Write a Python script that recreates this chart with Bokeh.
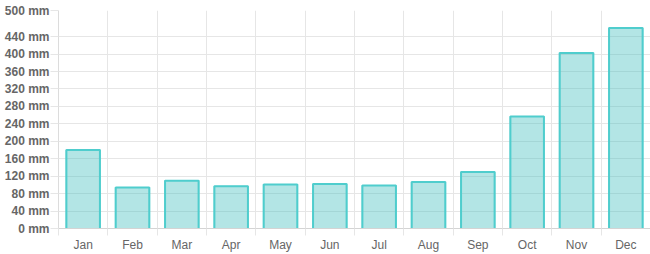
import numpy as np
from bokeh.plotting import figure
from bokeh.models import FixedTicker, Range1d, ColumnDataSource
from bokeh.embed import file_html
from bokeh.resources import INLINE

months = ["Jan", "Feb", "Mar", "Apr", "May", "Jun", "Jul", "Aug", "Sep", "Oct", "Nov", "Dec"]
rainfall = [181, 95, 111, 98, 102, 103, 100, 108, 131, 258, 404, 461]
y_ticks = [0, 40, 80, 120, 160, 200, 240, 280, 320, 360, 400, 440, 500]
unit = "mm"

n = len(months)
centers = [i + 0.5 for i in range(n)]
bounds = list(range(n + 1))
bar_w = 0.72

p = figure(width=650, height=254, output_backend="svg", toolbar_location=None,
           x_range=Range1d(0, n), y_range=Range1d(0, 500),
           min_border_left=58, min_border_right=0, min_border_top=10, min_border_bottom=25)
p.outline_line_color = None
p.background_fill_color = "white"
p.border_fill_color = "white"

src = ColumnDataSource(dict(x=centers, top=rainfall))
p.vbar(x="x", top="top", bottom=0, width=bar_w, source=src,
       fill_color=(75, 192, 192), fill_alpha=0.42, line_color=None)

xs, ys = [], []
for c, v in zip(centers, rainfall):
    xs.append([c - bar_w / 2 + 0.02, c - bar_w / 2 + 0.02, c + bar_w / 2 - 0.02, c + bar_w / 2 - 0.02])
    ys.append([0, v - 1.2, v - 1.2, 0])
p.multi_line(xs=xs, ys=ys, line_color="#4fcdcd", line_width=2, line_alpha=1.0)

grid_col = "#e6e6e6"
# x axis
xt = FixedTicker(ticks=centers, minor_ticks=bounds)
p.xaxis.ticker = xt
p.xaxis.major_label_overrides = {c: m for c, m in zip(centers, months)}
p.xaxis.major_tick_line_color = None
p.xaxis.minor_tick_line_color = grid_col
p.xaxis.minor_tick_in = 0
p.xaxis.minor_tick_out = 7
p.xaxis.axis_line_color = "#d4d4d4"
p.xaxis.major_label_standoff = 2
p.xaxis.major_label_text_font = "Liberation Sans"
p.xaxis.major_label_text_font_size = "12px"
p.xaxis.major_label_text_color = "#666666"
p.xgrid.ticker = FixedTicker(ticks=bounds)
p.xgrid.grid_line_color = grid_col

# y axis
p.yaxis.ticker = FixedTicker(ticks=y_ticks)
p.yaxis.major_label_overrides = {t: f"{t} {unit}" for t in y_ticks}
p.yaxis.major_tick_line_color = grid_col
p.yaxis.major_tick_in = 0
p.yaxis.major_tick_out = 8
p.yaxis.minor_tick_line_color = None
p.yaxis.axis_line_color = "#dcdcdc"
p.yaxis.major_label_standoff = 1
p.yaxis.major_label_text_font = "Liberation Sans"
p.yaxis.major_label_text_font_style = "bold"
p.yaxis.major_label_text_font_size = "12px"
p.yaxis.major_label_text_color = "#666666"
p.ygrid.grid_line_color = grid_col

open("out.html", "w").write(file_html(p, INLINE))
